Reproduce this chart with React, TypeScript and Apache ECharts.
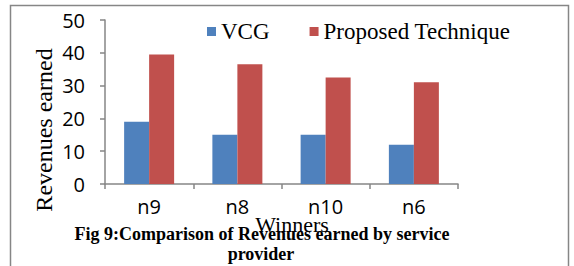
import React, { useEffect, useRef } from "react";
import * as echarts from "echarts";

const categories = ["n9", "n8", "n10", "n6"];
const vcgValues = [19, 15, 15, 12];
const proposedValues = [39.5, 36.5, 32.5, 31];
const seriesNames = ["VCG", "Proposed Technique"];

export default function App() {
  const ref = useRef<HTMLDivElement>(null);
  useEffect(() => {
    const chart = echarts.init(ref.current!, null, { renderer: "svg" });
    const axisColor = "#868686";
    chart.setOption({
      animation: false,
      backgroundColor: "#ffffff",
      grid: { left: 105, right: 116, top: 20, bottom: 82 },
      legend: {
        data: seriesNames,
        left: 202,
        top: 15,
        itemWidth: 9,
        itemHeight: 9,
        itemGap: 40,
        icon: "rect",
        textStyle: { fontFamily: "Liberation Serif", fontSize: 23, color: "#000" },
      },
      xAxis: {
        type: "category",
        data: categories,
        axisLine: { lineStyle: { color: axisColor, width: 1.5 } },
        axisTick: { show: true, length: 5, lineStyle: { color: axisColor, width: 1.5 } },
        axisLabel: { fontFamily: "Open Sans", fontSize: 20, color: "#000", margin: 12 },
      },
      yAxis: {
        type: "value",
        min: 0,
        max: 50,
        interval: 10,
        splitLine: { show: false },
        axisLine: { show: true, lineStyle: { color: axisColor, width: 1.5 } },
        axisTick: { show: true, length: 5, lineStyle: { color: axisColor, width: 1.5 } },
        axisLabel: { fontFamily: "Open Sans", fontSize: 20, color: "#000", margin: 20 },
      },
      series: [
        {
          name: seriesNames[0],
          type: "bar",
          data: vcgValues,
          barWidth: 25,
          barGap: "0%",
          itemStyle: { color: "#4F81BD" },
        },
        {
          name: seriesNames[1],
          type: "bar",
          data: proposedValues,
          barWidth: 25,
          barGap: "0%",
          itemStyle: { color: "#C0504D" },
        },
      ],
      graphic: [
        {
          type: "rect",
          shape: { x: 10.5, y: 5.5, width: 558, height: 280 },
          style: { fill: "none", stroke: axisColor, lineWidth: 1.5 },
          silent: true,
        },
        {
          type: "text",
          x: 44,
          y: 130,
          rotation: Math.PI / 2,
          style: {
            text: "Revenues earned",
            fontFamily: "Liberation Serif",
            fontSize: 24,
            fill: "#000",
            align: "center",
            verticalAlign: "middle",
          },
        },
        {
          type: "text",
          x: 292,
          y: 224,
          style: {
            text: "Winners",
            fontFamily: "Liberation Serif",
            fontSize: 22,
            fill: "#000",
            align: "center",
            verticalAlign: "middle",
          },
        },
        {
          type: "text",
          x: 262,
          y: 234,
          style: {
            text: "Fig 9:Comparison of Revenues earned by service",
            fontFamily: "Liberation Serif",
            fontWeight: "bold",
            fontSize: 18,
            fill: "#000",
            align: "center",
            verticalAlign: "middle",
          },
        },
        {
          type: "text",
          x: 261,
          y: 254,
          style: {
            text: "provider",
            fontFamily: "Liberation Serif",
            fontWeight: "bold",
            fontSize: 18,
            fill: "#000",
            align: "center",
            verticalAlign: "middle",
          },
        },
      ],
    });
    return () => chart.dispose();
  }, []);
  return (
    <div
      ref={ref}
      style={{ position: "absolute", left: 0, top: 0, width: 574, height: 266 }}
    />
  );
}
